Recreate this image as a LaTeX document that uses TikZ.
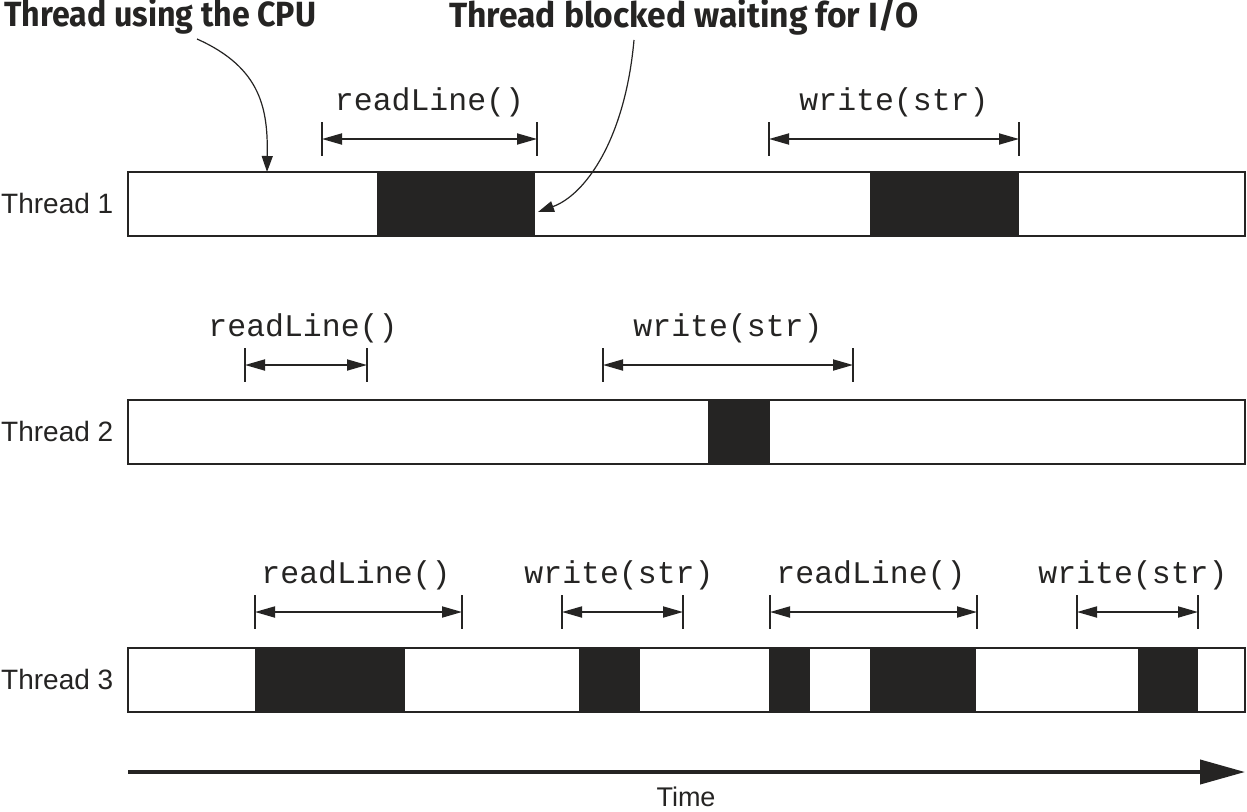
\documentclass[tikz,border=0pt]{standalone}
\usepackage{fontspec}
\usepackage{graphicx}
\setmainfont{Liberation Sans}
\newfontfamily\codefont{Liberation Mono}
\newfontfamily\notefont{Fira Sans}
\usetikzlibrary{arrows.meta}
\definecolor{ink}{HTML}{252423}
\tikzset{
  bar/.style={draw=ink,line width=2.2pt,fill=white},
  blk/.style={fill=ink,draw=none},
  tick/.style={draw=ink,line width=1.8pt},
  dim/.style={draw=ink,line width=1.8pt,{Triangle[length=20pt,width=11pt]}-{Triangle[length=20pt,width=11pt]}},
  code/.style={font=\codefont\fontsize{31.5}{34}\selectfont,text=ink,anchor=base,inner sep=0pt},
  lbl/.style={font=\fontsize{28}{32}\selectfont,text=ink,anchor=base west,inner sep=0pt},
  note/.style={font=\notefont\bfseries\fontsize{35}{40}\selectfont,text=ink,anchor=base west,inner sep=0pt},
  callout/.style={draw=ink,line width=1.2pt,-{Triangle[length=16pt,width=11pt]}},
}
\newcommand{\dimline}[4]{% x1, x2, yarrow, name
  \coordinate (#4a) at (#1,#3);
  \coordinate (#4b) at (#2,#3);
  \draw[tick] (#1,#3-17) -- (#1,#3+17);
  \draw[tick] (#2,#3-17) -- (#2,#3+17);
  \draw[dim] (#4a) -- (#4b);
}
\begin{document}
\begin{tikzpicture}[x=1pt,y=-1pt]
\useasboundingbox[fill=white] (0,0) rectangle (1247,811);

% Bars
\draw[bar] (128,172) rectangle (1245,236);
\draw[bar] (128,400) rectangle (1245,464);
\draw[bar] (128,648) rectangle (1245,712);

% Blocked segments
\fill[blk] (377,173.1) rectangle (535,234.9);
\fill[blk] (870,173.1) rectangle (1019,234.9);
\fill[blk] (708,401.1) rectangle (770,462.9);
\fill[blk] (255,649.1) rectangle (405,710.9);
\fill[blk] (579,649.1) rectangle (640,710.9);
\fill[blk] (769,649.1) rectangle (810,710.9);
\fill[blk] (870,649.1) rectangle (976,710.9);
\fill[blk] (1138,649.1) rectangle (1198,710.9);

% Thread labels
\node[lbl] (t1) at (1,213) {Thread 1};
\node[lbl] (t2) at (1,441) {Thread 2};
\node[lbl] (t3) at (1,689) {Thread 3};

% Thread 1 dimensions
\dimline{322}{537}{139}{d1r}
\node[code] (c1r) at (429.5,110) {readLine()};
\dimline{769}{1019}{139}{d1w}
\node[code] (c1w) at (894,110) {write(str)};

% Thread 2 dimensions
\dimline{245}{367}{365}{d2r}
\node[code] (c2r) at (303,336) {readLine()};
\dimline{603}{853}{365}{d2w}
\node[code] (c2w) at (728,336) {write(str)};

% Thread 3 dimensions
\dimline{255}{462}{612}{d3r}
\node[code] (c3r) at (356,583) {readLine()};
\dimline{562}{683}{612}{d3w}
\node[code] (c3w) at (619,583) {write(str)};
\dimline{770}{977}{612}{d3s}
\node[code] (c3s) at (871,583) {readLine()};
\dimline{1077}{1198}{612}{d3t}
\node[code] (c3t) at (1133,583) {write(str)};

% Annotations
\node[note] (n1) at (4,27) {\resizebox{312pt}{\height}{Thread using the CPU}};
\node[note] (n2) at (449,27) {\resizebox{469pt}{\height}{Thread blocked waiting for I/O}};
\coordinate (a1s) at (197,39);
\coordinate (a1e) at (267,172);
\coordinate (a2s) at (634,40);
\coordinate (a2e) at (538,212);
\draw[callout] (a1s) .. controls (262,68) and (268,110) .. (a1e);
\draw[callout] (a2s) .. controls (625,140) and (585,195) .. (a2e);

% Time axis
\coordinate (ts) at (128,772);
\coordinate (te) at (1245,772);
\draw[draw=ink,line width=4pt,-{Triangle[length=45pt,width=24pt]}] (ts) -- (te);
\node[font=\fontsize{27}{30}\selectfont,text=ink,anchor=base,inner sep=0pt] (time) at (686,806) {Time};
\end{tikzpicture}
\end{document}
